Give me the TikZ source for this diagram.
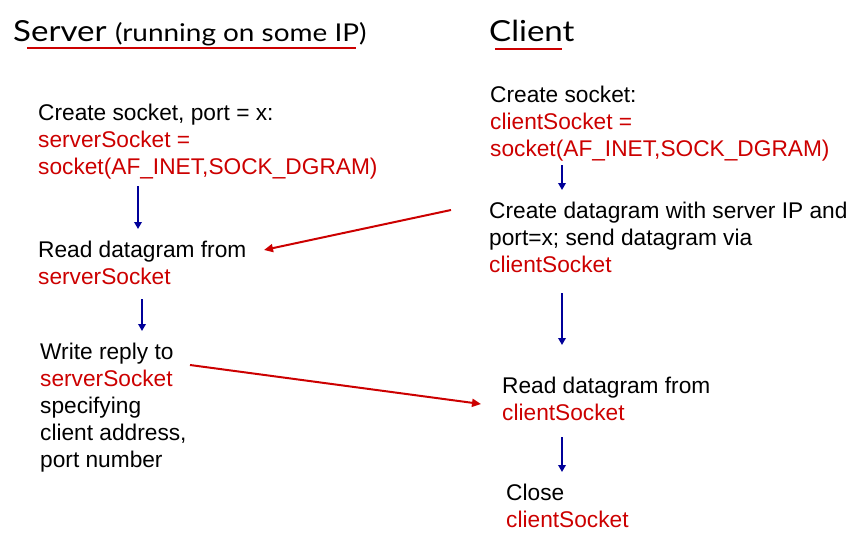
\documentclass[tikz,border=0pt]{standalone}
\usepackage{fontspec}
\setmainfont{Liberation Sans}
\newfontfamily\titlefont[FakeStretch=1.14]{Lato}
\usetikzlibrary{arrows.meta}
\definecolor{sred}{HTML}{CC0000}
\definecolor{sblue}{HTML}{000099}
\begin{document}
\begin{tikzpicture}[x=1pt,y=-1pt,
  txt/.style={anchor=north west,inner sep=0pt,align=left,font=\fontsize{22.7}{27}\selectfont},
  flow/.style={draw=sblue,line width=1.8pt,-{Triangle[length=7pt,width=7.5pt]}},
  msg/.style={draw=sred,line width=2pt,-{Triangle[length=9pt,width=8pt]}},
  uline/.style={draw=sred,line width=2pt}]
\useasboundingbox (0,0) rectangle (847,535);
% titles
\node[anchor=base west,inner sep=0pt,font=\titlefont\fontsize{29}{34}\selectfont] (st) at (13,42) {Server \fontsize{24.5}{29}\selectfont(running on some IP)};
\node[anchor=base west,inner sep=0pt,font=\titlefont\fontsize{29}{34}\selectfont] (ct) at (489,42) {Client};
\coordinate (su1) at (27,48); \coordinate (su2) at (356,48);
\coordinate (cu1) at (495,49); \coordinate (cu2) at (562,49);
\draw[uline] (su1) -- (su2);
\draw[uline] (cu1) -- (cu2);
% server side
\node[txt] (s1) at (38,104) {Create socket, port = x:\\\textcolor{sred}{serverSocket =}\\\textcolor{sred}{socket(AF\_INET,SOCK\_DGRAM)}};
\node[txt] (s2) at (38,241) {Read datagram from\\\textcolor{sred}{serverSocket}};
\node[txt] (s3) at (40,343) {Write reply to\\\textcolor{sred}{serverSocket}\\specifying\\client address,\\port number};
% client side
\node[txt] (c1) at (490,86) {Create socket:\\\textcolor{sred}{clientSocket =}\\\textcolor{sred}{socket(AF\_INET,SOCK\_DGRAM)}};
\node[txt] (c2) at (489,202) {Create datagram with server IP and\\port=x; send datagram via\\\textcolor{sred}{clientSocket}};
\node[txt] (c3) at (502,377) {Read datagram from\\\textcolor{sred}{clientSocket}};
\node[txt] (c4) at (506,484) {Close\\\textcolor{sred}{clientSocket}};
% blue flow arrows
\coordinate (a1s) at (138,186); \coordinate (a1e) at (138,229);
\coordinate (a2s) at (142,299); \coordinate (a2e) at (142,331);
\coordinate (b1s) at (562,165); \coordinate (b1e) at (562,190);
\coordinate (b2s) at (562,293); \coordinate (b2e) at (562,345);
\coordinate (b3s) at (562,437); \coordinate (b3e) at (562,472);
\draw[flow] (a1s) -- (a1e);
\draw[flow] (a2s) -- (a2e);
\draw[flow] (b1s) -- (b1e);
\draw[flow] (b2s) -- (b2e);
\draw[flow] (b3s) -- (b3e);
% red message arrows
\coordinate (m1s) at (451,210); \coordinate (m1e) at (264,250);
\coordinate (m2s) at (190,365); \coordinate (m2e) at (481,404);
\draw[msg] (m1s) -- (m1e);
\draw[msg] (m2s) -- (m2e);
\end{tikzpicture}
\end{document}
